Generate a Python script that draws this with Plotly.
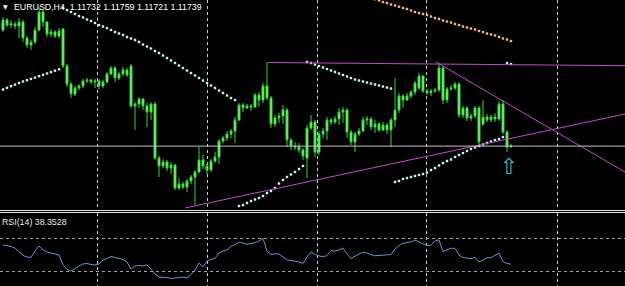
import plotly.graph_objects as go

symbol = "EURUSD,H4"
bars = list(range(128))

open_ = [1.1290, 1.1300, 1.1295, 1.1296, 1.1294, 1.1298, 1.1282, 1.1275, 1.1278, 1.1290,
         1.1308, 1.1298, 1.1286, 1.1288, 1.1284, 1.1291, 1.1254, 1.1236, 1.1226, 1.1232,
         1.1234, 1.1239, 1.1240, 1.1238, 1.1239, 1.1234, 1.1238, 1.1246, 1.1252, 1.1242,
         1.1246, 1.1250, 1.1254, 1.1214, 1.1216, 1.1221, 1.1214, 1.1208, 1.1216, 1.1162,
         1.1154, 1.1158, 1.1152, 1.1155, 1.1132, 1.1136, 1.1133, 1.1139, 1.1143, 1.1148,
         1.1160, 1.1154, 1.1150, 1.1159, 1.1163, 1.1179, 1.1182, 1.1186, 1.1189, 1.1200,
         1.1215, 1.1212, 1.1214, 1.1213, 1.1225, 1.1220, 1.1234, 1.1222, 1.1196, 1.1202,
         1.1204, 1.1210, 1.1180, 1.1174, 1.1173, 1.1170, 1.1162, 1.1192, 1.1198, 1.1168,
         1.1186, 1.1189, 1.1200, 1.1198, 1.1201, 1.1208, 1.1210, 1.1188, 1.1178, 1.1186,
         1.1189, 1.1200, 1.1201, 1.1193, 1.1196, 1.1190, 1.1195, 1.1190, 1.1200, 1.1210,
         1.1224, 1.1220, 1.1224, 1.1228, 1.1232, 1.1244, 1.1229, 1.1227, 1.1229, 1.1230,
         1.1252, 1.1220, 1.1231, 1.1232, 1.1236, 1.1205, 1.1212, 1.1202, 1.1204, 1.1212,
         1.1196, 1.1203, 1.1200, 1.1203, 1.1201, 1.1216, 1.1188, 1.11732]
high = [1.1303, 1.1302, 1.1300, 1.1298, 1.1302, 1.1300, 1.1284, 1.1280, 1.1293, 1.1313,
        1.1310, 1.1299, 1.1291, 1.1290, 1.1292, 1.1292, 1.1256, 1.1238, 1.1234, 1.1236,
        1.1241, 1.1242, 1.1241, 1.1241, 1.1241, 1.1240, 1.1248, 1.1254, 1.1254, 1.1248,
        1.1253, 1.1252, 1.1256, 1.1218, 1.1223, 1.1222, 1.1217, 1.1218, 1.1218, 1.1164,
        1.1161, 1.1160, 1.1158, 1.1156, 1.1142, 1.1138, 1.1141, 1.1145, 1.1150, 1.1173,
        1.1165, 1.1156, 1.1161, 1.1168, 1.1181, 1.1184, 1.1189, 1.1191, 1.1203, 1.1217,
        1.1217, 1.1216, 1.1216, 1.1227, 1.1228, 1.1237, 1.1258, 1.1224, 1.1205, 1.1207,
        1.1215, 1.1212, 1.1182, 1.1178, 1.1177, 1.1172, 1.1195, 1.1205, 1.1200, 1.1189,
        1.1192, 1.1203, 1.1202, 1.1204, 1.1212, 1.1213, 1.1212, 1.1190, 1.1188, 1.1192,
        1.1203, 1.1204, 1.1203, 1.1200, 1.1198, 1.1198, 1.1197, 1.1202, 1.1242, 1.1227,
        1.1226, 1.1227, 1.1230, 1.1239, 1.1247, 1.1245, 1.1231, 1.1231, 1.1232, 1.1257,
        1.1254, 1.1233, 1.1235, 1.1238, 1.1238, 1.1214, 1.1214, 1.1206, 1.1214, 1.1214,
        1.1220, 1.1206, 1.1205, 1.1207, 1.1219, 1.1220, 1.1190, 1.11759]
low = [1.1288, 1.1293, 1.1292, 1.1291, 1.1282, 1.1278, 1.1272, 1.1270, 1.1276, 1.1289,
       1.1293, 1.1283, 1.1283, 1.1282, 1.1282, 1.1252, 1.1233, 1.1222, 1.1224, 1.1230,
       1.1232, 1.1237, 1.1236, 1.1232, 1.1231, 1.1232, 1.1237, 1.1245, 1.1238, 1.1240,
       1.1244, 1.1243, 1.1212, 1.1190, 1.1212, 1.1210, 1.1193, 1.1200, 1.1160, 1.1143,
       1.1152, 1.1149, 1.1146, 1.1130, 1.1130, 1.1131, 1.1128, 1.1136, 1.1115, 1.1147,
       1.1151, 1.1146, 1.1148, 1.1157, 1.1156, 1.1177, 1.1179, 1.1182, 1.1177, 1.1199,
       1.1208, 1.1211, 1.1209, 1.1212, 1.1213, 1.1217, 1.1220, 1.1192, 1.1193, 1.1197,
       1.1196, 1.1173, 1.1170, 1.1170, 1.1167, 1.1160, 1.1142, 1.1190, 1.1163, 1.1165,
       1.1182, 1.1180, 1.1195, 1.1196, 1.1195, 1.1197, 1.1182, 1.1175, 1.1168, 1.1184,
       1.1188, 1.1195, 1.1190, 1.1187, 1.1188, 1.1189, 1.1186, 1.1173, 1.1193, 1.1207,
       1.1212, 1.1219, 1.1222, 1.1225, 1.1230, 1.1227, 1.1225, 1.1224, 1.1227, 1.1228,
       1.1216, 1.1217, 1.1229, 1.1230, 1.1202, 1.1202, 1.1199, 1.1199, 1.1202, 1.1174,
       1.1194, 1.1198, 1.1198, 1.1198, 1.1199, 1.1186, 1.1168, 1.11721]
close = [1.1300, 1.1295, 1.1296, 1.1294, 1.1298, 1.1282, 1.1275, 1.1278, 1.1290, 1.1308,
         1.1298, 1.1286, 1.1288, 1.1284, 1.1289, 1.1254, 1.1236, 1.1226, 1.1232, 1.1234,
         1.1239, 1.1240, 1.1238, 1.1239, 1.1234, 1.1238, 1.1246, 1.1252, 1.1242, 1.1246,
         1.1250, 1.1245, 1.1214, 1.1216, 1.1221, 1.1214, 1.1208, 1.1216, 1.1162, 1.1154,
         1.1158, 1.1152, 1.1155, 1.1132, 1.1136, 1.1133, 1.1139, 1.1143, 1.1148, 1.1160,
         1.1154, 1.1150, 1.1159, 1.1163, 1.1179, 1.1182, 1.1186, 1.1189, 1.1200, 1.1215,
         1.1212, 1.1214, 1.1213, 1.1225, 1.1220, 1.1234, 1.1222, 1.1196, 1.1202, 1.1204,
         1.1210, 1.1180, 1.1174, 1.1173, 1.1170, 1.1164, 1.1192, 1.1198, 1.1168, 1.1186,
         1.1189, 1.1200, 1.1198, 1.1201, 1.1208, 1.1210, 1.1188, 1.1178, 1.1186, 1.1189,
         1.1200, 1.1201, 1.1193, 1.1196, 1.1190, 1.1195, 1.1190, 1.1200, 1.1210, 1.1224,
         1.1220, 1.1224, 1.1228, 1.1237, 1.1244, 1.1229, 1.1227, 1.1229, 1.1230, 1.1252,
         1.1220, 1.1231, 1.1232, 1.1236, 1.1205, 1.1212, 1.1202, 1.1204, 1.1212, 1.1178,
         1.1203, 1.1200, 1.1203, 1.1201, 1.1216, 1.1188, 1.1173, 1.11739]

# Parabolic SAR (cyan dots)
sar = [1.12305, 1.12322, 1.12338, 1.12354, 1.1237, 1.12385, 1.12398, 1.12411, 1.12424, 1.12438,
       1.12452, 1.12465, 1.12479, 1.12493, 1.12507,
       1.1312, 1.1310, 1.1308, 1.1306, 1.1304, 1.13025, 1.13005, 1.1299, 1.1297, 1.1295,
       1.12935, 1.1292, 1.1290, 1.1288, 1.12865, 1.1285, 1.1283, 1.12815, 1.1280, 1.1278,
       1.12755, 1.12735, 1.12715, 1.1269, 1.1267, 1.12645, 1.1262, 1.12595, 1.1257, 1.12545,
       1.1252, 1.12495, 1.1247, 1.12445, 1.1242, 1.12395, 1.1237, 1.12345, 1.1232, 1.12295,
       1.1227, 1.12245, 1.1222, 1.1220,
       1.1114, 1.1115, 1.1117, 1.1119, 1.11205, 1.1122, 1.1124, 1.1127, 1.1129, 1.1132,
       1.11365, 1.1140, 1.1143, 1.11455, 1.1148, 1.1151, 1.1154,
       1.1258, 1.1257, 1.12555, 1.1254, 1.12525, 1.1251, 1.12495, 1.1248, 1.12465, 1.1245,
       1.12435, 1.1242, 1.12405, 1.12395, 1.12385, 1.12375, 1.12365, 1.12355, 1.12345, 1.12335,
       1.12325, 1.12315,
       1.1138, 1.1139, 1.1141, 1.1142, 1.1143, 1.1144, 1.1145, 1.1146, 1.11475, 1.1150,
       1.1152, 1.11545, 1.1157, 1.1159, 1.11605, 1.1163, 1.1165, 1.1167, 1.1169, 1.1171,
       1.11725, 1.1174, 1.11755, 1.1177, 1.11785, 1.1180, 1.1181, 1.1183,
       1.1257, 1.1256]

# second (slow) dotted line, orange
sar2_bars = list(range(91, 128))
sar2 = [1.1323, 1.1322, 1.13208,
        1.13195, 1.1318, 1.1317, 1.13155, 1.13145, 1.13133, 1.1312, 1.1311, 1.13095, 1.1308,
        1.1307, 1.1306, 1.1305, 1.13035, 1.1302, 1.1301, 1.12995, 1.12985, 1.12975, 1.1296,
        1.1295, 1.12935, 1.12925, 1.12915, 1.12905, 1.1289, 1.1288, 1.12865, 1.12855, 1.12845,
        1.1283, 1.12815, 1.12805, 1.1279]

rsi = [61.5, 60.9, 59.7, 57.9, 53.0, 48.8, 47.0, 46.4, 54.2, 60.3,
       55.5, 53.0, 51.8, 50.6, 49.4, 37.3, 31.8, 30.0, 33.6, 36.1,
       38.5, 39.1, 37.9, 37.3, 38.5, 43.3, 45.2, 47.6, 46.4, 45.2,
       43.9, 40.9, 32.4, 36.1, 36.7, 36.1, 37.3, 32.4, 26.4, 22.7,
       22.7, 22.1, 20.9, 21.5, 22.7, 22.7, 21.9, 25.8, 31.2, 39.7,
       35.2, 42.1, 43.9, 45.4, 51.8, 54.2, 55.5, 59.7, 62.1, 65.2,
       63.9, 62.4, 63.3, 64.3, 66.4, 69.6, 54.2, 50.0, 50.8, 50.6,
       47.0, 43.3, 42.7, 42.1, 40.9, 39.1, 47.0, 53.0, 50.0, 48.4,
       47.0, 48.8, 54.8, 54.2, 55.5, 57.9, 50.6, 45.2, 48.2, 50.6,
       53.0, 51.8, 50.0, 48.5, 48.8, 49.2, 49.4, 50.0, 56.7, 60.9,
       63.6, 64.3, 65.2, 67.6, 65.2, 63.0, 60.7, 61.3, 66.4, 67.6,
       53.4, 55.7, 57.5, 57.5, 49.4, 46.4, 45.2, 44.8, 46.7, 40.9,
       43.3, 46.1, 46.1, 49.4, 51.8, 41.3, 39.1, 38.3528]
rsi_levels = [30, 70]

# trendlines: (bar, price) end points
trend_flat_x = [66.25, 155.5]
trend_flat_y = [1.12575, 1.12543]
trend_up_x = [45.5, 155.5]
trend_up_y = [1.1112, 1.1206]
trend_down_x = [108.25, 155.5]
trend_down_y = [1.1258, 1.1148]

arrow_bar = [126.4]
arrow_price = [1.1152]

grid_bars = [23.5, 51, 78.5, 105.75, 138.5]

H = 286
main_bottom = 1 - 210 / H
rsi_top = 1 - 213 / H

fig = go.Figure()

candle_line = "#36d436"
candle_fill = "#94ff94"
fig.add_trace(go.Candlestick(
    x=bars, open=open_, high=high, low=low, close=close,
    increasing=dict(line=dict(color=candle_line, width=1), fillcolor=candle_fill),
    decreasing=dict(line=dict(color=candle_line, width=1), fillcolor=candle_fill),
    whiskerwidth=0, xaxis="x", yaxis="y", hoverinfo="skip"))

fig.add_trace(go.Scatter(x=bars, y=sar, mode="markers", xaxis="x", yaxis="y",
                         marker=dict(symbol="square", size=2.4, color="#c4f6f2", line=dict(width=0))))
fig.add_trace(go.Scatter(x=sar2_bars, y=sar2, mode="markers", xaxis="x", yaxis="y",
                         marker=dict(symbol="square", size=2.4, color="#f6b488", line=dict(width=0))))

tl_color = "#c448cc"
for tx, ty in [(trend_flat_x, trend_flat_y), (trend_up_x, trend_up_y), (trend_down_x, trend_down_y)]:
    fig.add_trace(go.Scatter(x=tx, y=ty, mode="lines", xaxis="x", yaxis="y",
                             line=dict(color=tl_color, width=1)))

fig.add_trace(go.Scatter(x=arrow_bar, y=arrow_price, mode="text", text=["⇧"], xaxis="x", yaxis="y",
                         textfont=dict(family="DejaVu Sans", size=22, color="#3fbcc8")))

fig.add_trace(go.Scatter(x=bars, y=rsi, mode="lines", xaxis="x", yaxis="y2",
                         line=dict(color="#7090d4", width=1)))

shapes = [
    dict(type="line", xref="paper", yref="y", x0=0, x1=1, y0=close[-1], y1=close[-1],
         line=dict(color="#c4c4c4", width=1)),
    dict(type="line", xref="paper", yref="paper", x0=0, x1=1, y0=1 - 210.5 / H, y1=1 - 210.5 / H,
         line=dict(color="#e6e6e6", width=1)),
    dict(type="line", xref="paper", yref="paper", x0=0, x1=1, y0=1 - 212.5 / H, y1=1 - 212.5 / H,
         line=dict(color="#e6e6e6", width=1)),
]

title_text = "%s\u00a0\u00a0%.5f %.5f %.5f %.5f" % (symbol, open_[-1], high[-1], low[-1], close[-1])
annotations = [
    dict(xref="paper", yref="paper", x=1 / 625, y=1 - 1 / H, xanchor="left", yanchor="top",
         text="▼", showarrow=False, font=dict(family="DejaVu Sans", size=6, color="white")),
    dict(xref="paper", yref="paper", x=12 / 625, y=1, xanchor="left", yanchor="top",
         text=title_text, showarrow=False, font=dict(family="Liberation Sans", size=8.8, color="white")),
    dict(xref="paper", yref="paper", x=0, y=1 - 214.7 / H, xanchor="left", yanchor="top",
         text="RSI(14) %.4f" % rsi[-1], showarrow=False,
         font=dict(family="Liberation Sans", size=8.8, color="#e8e8e8")),
]

fig.update_layout(
    width=625, height=286, margin=dict(l=0, r=0, t=0, b=0, pad=0),
    paper_bgcolor="black", plot_bgcolor="black", showlegend=False,
    shapes=shapes, annotations=annotations,
    xaxis=dict(range=[-0.75, 155.5], domain=[0, 1], anchor="y2", showticklabels=False, ticks="",
               tickvals=grid_bars, showgrid=True, gridcolor="#d0d0d0", gridwidth=1, griddash="dot",
               zeroline=False, showline=False, rangeslider=dict(visible=False), fixedrange=True),
    yaxis=dict(domain=[main_bottom, 1], range=[1.1110, 1.1320], showgrid=False, showticklabels=False,
               ticks="", zeroline=False, showline=False),
    yaxis2=dict(domain=[0, rsi_top], range=[11.82, 100.3], tickvals=rsi_levels, showgrid=True,
                gridcolor="#a0a0a0", gridwidth=1, griddash="dot", showticklabels=False, ticks="",
                zeroline=False, showline=False),
)

fig.write_html("out.html")
